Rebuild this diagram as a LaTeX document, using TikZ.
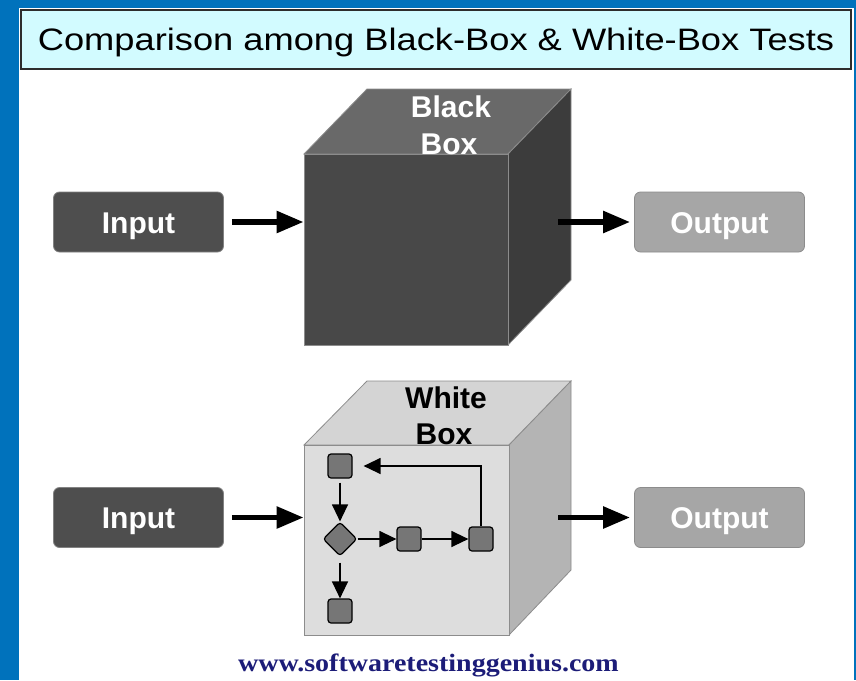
\documentclass[tikz,border=0pt]{standalone}
\usepackage{fontspec}
\setmainfont{Liberation Sans}
\newfontfamily\wmfont{Liberation Serif}
\usetikzlibrary{arrows.meta,shapes.geometric}

\definecolor{framecol}{RGB}{0,114,188}
\definecolor{titlefill}{RGB}{210,251,255}
\definecolor{titleedge}{RGB}{45,45,45}
\definecolor{cubeedge}{RGB}{140,140,140}
\definecolor{bbfrontcol}{RGB}{72,72,72}
\definecolor{bbtopcol}{RGB}{105,105,105}
\definecolor{bbsidecol}{RGB}{60,60,60}
\definecolor{wbfrontcol}{RGB}{221,221,221}
\definecolor{wbtopcol}{RGB}{212,212,212}
\definecolor{wbsidecol}{RGB}{180,180,180}
\definecolor{infill}{RGB}{78,78,78}
\definecolor{inedge}{RGB}{130,130,130}
\definecolor{outfill}{RGB}{166,166,166}
\definecolor{outedge}{RGB}{140,140,140}
\definecolor{fcgray}{RGB}{118,118,118}
\definecolor{wmblue}{RGB}{28,28,120}

\tikzset{
  iobox/.style={rounded corners=6pt, line width=0.8pt, minimum width=170pt,
    minimum height=60pt, inner sep=0pt, text=white,
    font=\bfseries\fontsize{30}{30}\selectfont, text height=22pt, text depth=0pt},
  inbox/.style={iobox, fill=infill, draw=inedge},
  outbox/.style={iobox, fill=outfill, draw=outedge},
  cubelabel/.style={font=\bfseries\fontsize{30}{30}\selectfont, inner sep=0pt,
    text height=22pt, text depth=0pt},
  bigarrow/.style={line width=5.5pt, -{Triangle[length=27pt,width=21pt]}},
  fcbox/.style={draw=black, line width=1.2pt, fill=fcgray, rounded corners=3pt,
    minimum size=24pt, inner sep=0pt},
  fcdia/.style={diamond, aspect=1, draw=black, line width=1.2pt, fill=fcgray,
    rounded corners=3pt, minimum size=34pt, inner sep=0pt},
  fcarrow/.style={line width=1.3pt, -{Triangle[length=17pt,width=16pt]}}
}

\begin{document}
\begin{tikzpicture}[x=1pt,y=-1pt]
\useasboundingbox (0,0) rectangle (856,680);

% frame and white panel
\fill[framecol] (0,0) rectangle (856,680);
\fill[white] (19,8) rectangle (854,680);

% title banner
\node[draw=titleedge, line width=1.6pt, fill=titlefill, minimum width=830pt,
  minimum height=59pt, inner sep=0pt, font=\fontsize{31}{31}\selectfont,
  text height=22pt, text depth=0pt] (title) at (436,39.5)
  {\scalebox{1.17}[1]{Comparison among Black-Box \& White-Box Tests}};

% ---------- black box ----------
\filldraw[fill=bbtopcol, draw=cubeedge, line width=0.8pt]
  (304,154) -- (367,89) -- (571,89) -- (508,154) -- cycle;
\filldraw[fill=bbsidecol, draw=cubeedge, line width=0.8pt]
  (508,154) -- (571,89) -- (571,280) -- (508,345) -- cycle;
\node[fill=bbfrontcol, draw=cubeedge, line width=0.8pt, minimum width=204pt,
  minimum height=191pt, inner sep=0pt] (bb) at (406,249.5) {};
\node[cubelabel, text=white] (bbl1) at (451,106) {Black};
\node[cubelabel, text=white] (bbl2) at (449,143) {Box};

\node[inbox] (in1) at (138.5,222) {Input};
\node[outbox] (out1) at (719.5,222) {Output};
\coordinate (bbout) at (558,222);
\draw[bigarrow, shorten <=8pt] (in1.east) -- (in1.east -| bb.west);
\draw[bigarrow, shorten >=4pt] (bbout) -- (out1.west);

% ---------- white box ----------
\filldraw[fill=wbtopcol, draw=cubeedge, line width=0.8pt]
  (304,445) -- (367,381) -- (571,381) -- (509,445) -- cycle;
\filldraw[fill=wbsidecol, draw=cubeedge, line width=0.8pt]
  (509,445) -- (571,381) -- (571,570) -- (509,635) -- cycle;
\node[fill=wbfrontcol, draw=cubeedge, line width=0.8pt, minimum width=205pt,
  minimum height=190pt, inner sep=0pt] (wb) at (406.5,540) {};
\node[cubelabel, text=black] (wbl1) at (446,397) {White};
\node[cubelabel, text=black] (wbl2) at (444,433) {Box};

\node[inbox] (in2) at (138.5,517.5) {Input};
\node[outbox] (out2) at (719.5,517.5) {Output};
\coordinate (wbout) at (558,517.5);
\draw[bigarrow, shorten <=8pt] (in2.east) -- (in2.east -| wb.west);
\draw[bigarrow, shorten >=4pt] (wbout) -- (out2.west);

% flow inside the white box
\node[fcbox] (fa) at (340,466) {};
\node[fcdia] (fdia) at (340,539) {};
\node[fcbox] (fb) at (409,539) {};
\node[fcbox] (fc) at (481,539) {};
\node[fcbox] (fd) at (340,611) {};
\draw[fcarrow, shorten <=4pt] (fa) -- (fdia);
\draw[fcarrow] (fdia) -- (fb);
\draw[fcarrow] (fb) -- (fc);
\draw[fcarrow, shorten >=11pt] (fc.north) |- (fa.east);
\draw[fcarrow, shorten <=6pt] (fdia) -- (fd);

% site address
\node[anchor=base, text=wmblue, inner sep=0pt,
  font=\wmfont\bfseries\fontsize{25}{25}\selectfont] (wm) at (428.5,671)
  {\scalebox{1.12}[1]{www.softwaretestinggenius.com}};
\end{tikzpicture}
\end{document}
